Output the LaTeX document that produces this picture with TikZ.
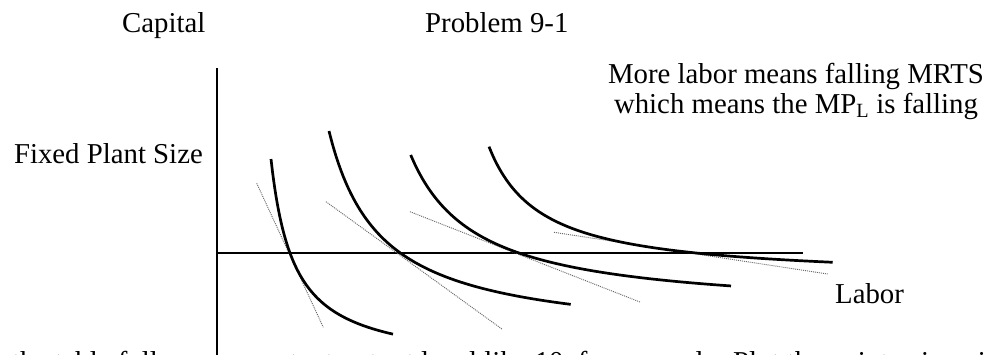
\documentclass[tikz,border=0pt]{standalone}
\usepackage{fontspec}
\setmainfont{Liberation Serif}
\begin{document}
\begin{tikzpicture}[x=1pt,y=-1pt,
  txt/.style={inner sep=0pt,font=\fontsize{28.8}{34}\selectfont},
  axisline/.style={line width=2.2pt,black},
  iso/.style={line width=2.7pt,black,line join=round},
  tangent/.style={line width=0.9pt,gray!80!black,dash pattern=on 1pt off 1pt}]
\useasboundingbox (0,0) rectangle (1000,354);
\clip (0,0) rectangle (1000,354);
\fill[white] (0,0) rectangle (1000,354);
% axes
\coordinate (ytop) at (217,68);
\coordinate (ybot) at (217,360);
\coordinate (xleft) at (217,252.7);
\coordinate (xright) at (803,252.7);
\draw[axisline] (ytop) -- (ybot);
\draw[axisline] (xleft) -- (xright);
% tangent lines
\coordinate (t1a) at (256.7,183.3); \coordinate (t1b) at (323.3,327.3);
\coordinate (t2a) at (326,201.7);   \coordinate (t2b) at (502.3,329.3);
\coordinate (t3a) at (410,211.7);   \coordinate (t3b) at (640.7,302.3);
\coordinate (t4a) at (554,232.3);   \coordinate (t4b) at (827.7,274);
\draw[tangent] (t1a) -- (t1b);
\draw[tangent] (t2a) -- (t2b);
\draw[tangent] (t3a) -- (t3b);
\draw[tangent] (t4a) -- (t4b);
% isoquants (hyperbolas)
\draw[iso] plot[domain=271:393,samples=80,smooth] (\x,{367.3-4811/(\x-247.9)});
\draw[iso] plot[domain=329:570.7,samples=80,smooth] (\x,{341.5-10903/(\x-277.2)});
\draw[iso] plot[domain=410.7:731,samples=80,smooth] (\x,{313.1-10501/(\x-344.3)});
\draw[iso] plot[domain=489:832.7,samples=80,smooth] (\x,{279.9-6981/(\x-436.6)});
% labels
\node[txt,anchor=base west] (capital) at (122,32) {Capital};
\node[txt,anchor=base west] (problem) at (425,32) {Problem 9-1};
\node[txt,anchor=base] (more) at (796,83) {More labor means falling MRTS};
\node[txt,anchor=base] (which) at (796,113) {which means the MP\textsubscript{L} is falling};
\node[txt,anchor=base east] (fixed) at (203,163) {Fixed Plant Size};
\node[txt,anchor=base west] (labor) at (835,303) {Labor};
\node[txt,anchor=base west] (bottom1) at (12,371) {the table follows};
\node[txt,anchor=base west] (bottom2) at (237,371) {constant output level like 10, for example. Plot the points given in the};
\end{tikzpicture}
\end{document}
